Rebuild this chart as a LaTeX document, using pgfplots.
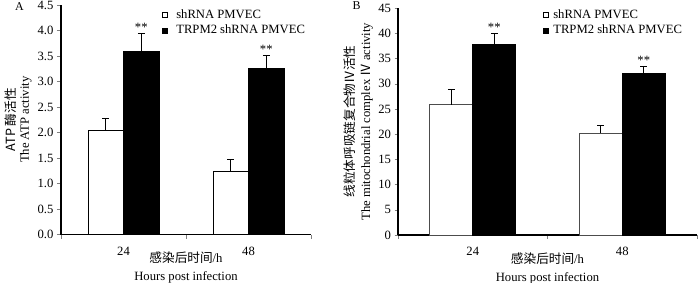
\documentclass[border=0pt]{standalone}
\usepackage{pgfplots}
\pgfplotsset{compat=1.18}
\usepackage{fontspec}
\setmainfont{Liberation Serif}
\newfontfamily\cjk{Noto Sans CJK SC}
\newcommand{\ft}{\fontsize{12.7}{14}\selectfont}
\begin{document}
\begin{tikzpicture}
\useasboundingbox (0,0) rectangle (700bp,-283bp);
\pgfplotsset{
  mybar/.style={
    ybar=0pt, scale only axis,
    axis x line*=bottom, axis y line*=left,
    anchor=south west,
    xmin=-0.5, xmax=1.5,
    ymin=0,
    tick align=outside,
    xtick={0,1}, xticklabels={24,48},
    major x tick style={draw=none},
    minor xtick={-0.5,0.5,1.5},
    xticklabel style={yshift=-5bp},
    tick label style={font=\ft},
    /pgf/number format/assume math mode=true,
    xlabel={{\cjk 感染后时间}/h\\Hours post infection},
    xlabel style={at={(axis description cs:0.5,0)}, anchor=north, inner sep=0pt, yshift=-17.5bp, align=center, font=\fontsize{12.7}{18}\selectfont},
    legend style={draw=none, fill=none, inner sep=0pt, outer sep=0pt, font=\ft,
      nodes={inner xsep=0pt, inner ysep=1.75bp, text height=9bp, text depth=3bp},
      row sep=0pt, cells={anchor=west}},
    legend cell align=left,
  },
  errs/.style={
    error bars/y dir=plus, error bars/y explicit,
    error bars/error bar style={line width=0.9bp, black},
    error bars/error mark options={rotate=90, mark size=3.5bp, line width=0.9bp, black}},
  whitebar/.style={fill=white, draw=black, line width=0.8bp, errs},
  blackbar/.style={fill=black, draw=black, line width=0.8bp, errs},
}
% Panel A
\begin{axis}[mybar,
  at={(61bp,-234.5bp)},
  width=250bp, height=229.5bp,
  bar width=35.5bp,
  ymax=4.5, ytick={0,0.5,...,4.5},
  yticklabel style={/pgf/number format/.cd, fixed, fixed zerofill, precision=1},
  axis line style={line width=1.6bp},
  major tick length=4bp, minor tick length=4bp,
  ylabel={{\cjk ATP 酶活性}\\The ATP activity},
  ylabel style={at={(axis description cs:-0.170,0.5)}, anchor=center, align=center, font=\fontsize{12.7}{13}\selectfont},
  legend style={at={(axis description cs:0.404,0.99)}, anchor=north west},
]
\addplot[whitebar, legend image code/.code={\draw[fill=white,draw=black,line width=0.6bp] (0bp,-2.5bp) rectangle (5bp,2.5bp); \path[draw=none,fill=none] (0,0) -- (14bp,0);}] coordinates {(0,2.05) +- (0,0.22) (1,1.23) +- (0,0.25)};
\addplot[blackbar, legend image code/.code={\draw[fill=black,draw=black,line width=0.6bp] (0bp,-2.5bp) rectangle (5bp,2.5bp); \path[draw=none,fill=none] (0,0) -- (14bp,0);}] coordinates {(0,3.59) +- (0,0.36) (1,3.25) +- (0,0.26)};
\legend{shRNA PMVEC, TRPM2 shRNA PMVEC}
\node[anchor=base, inner sep=0pt, font=\ft, yshift=2bp] at (axis cs:0.142,3.95) {**};
\node[anchor=base, inner sep=0pt, font=\ft, yshift=2bp] at (axis cs:1.142,3.51) {**};
\end{axis}
% Panel B
\begin{axis}[mybar,
  at={(398bp,-235bp)},
  width=299bp, height=227bp,
  bar width=43bp,
  ymax=45, ytick={0,5,...,45},
  axis line style={line width=1.3bp},
  major tick length=3.5bp, minor tick length=3.5bp,
  ylabel={{\cjk 线粒体呼吸链复合物Ⅳ活性}\\The mitochondrial complex {\cjk Ⅳ} activity},
  ylabel style={at={(axis description cs:-0.133,0.5)}, anchor=center, align=center, font=\fontsize{12.7}{16}\selectfont},
  legend style={at={(axis description cs:0.485,1.003)}, anchor=north west},
]
\addplot[whitebar, draw=black!70, legend image code/.code={\draw[fill=white,draw=black,line width=0.6bp] (0bp,-2.5bp) rectangle (5bp,2.5bp); \path[draw=none,fill=none] (0,0) -- (10bp,0);}] coordinates {(0,25.8) +- (0,3.1) (1,20.2) +- (0,1.5)};
\addplot[blackbar, legend image code/.code={\draw[fill=black,draw=black,line width=0.6bp] (0bp,-2.5bp) rectangle (5bp,2.5bp); \path[draw=none,fill=none] (0,0) -- (10bp,0);}] coordinates {(0,37.8) +- (0,2.1) (1,32.1) +- (0,1.3)};
\legend{shRNA PMVEC, TRPM2 shRNA PMVEC}
\node[anchor=base, inner sep=0pt, font=\ft, yshift=2bp] at (axis cs:0.144,39.9) {**};
\node[anchor=base, inner sep=0pt, font=\ft, yshift=2bp] at (axis cs:1.144,33.4) {**};
\end{axis}
\node[font=\fontsize{12}{14}\selectfont, inner sep=0pt] at (19.5bp,-6.5bp) {A};
\node[font=\fontsize{12}{14}\selectfont, inner sep=0pt] at (356.5bp,-5.5bp) {B};
\end{tikzpicture}
\end{document}
